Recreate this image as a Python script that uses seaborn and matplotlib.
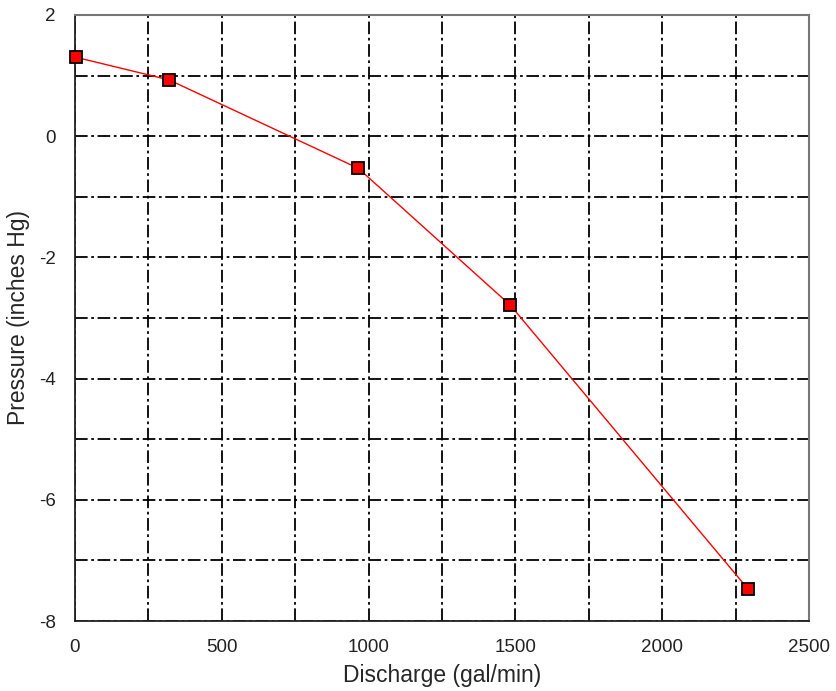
import numpy as np
import pandas as pd
import matplotlib
matplotlib.use("Agg")
import matplotlib.pyplot as plt
import matplotlib.ticker as mticker
import seaborn as sns

discharge = [5, 320, 965, 1483, 2292]
pressure = [1.30, 0.93, -0.53, -2.79, -7.47]

sns.set_theme(style="white")
plt.rcParams["font.family"] = ["Liberation Sans", "DejaVu Sans"]
plt.rcParams["axes.unicode_minus"] = False

df = pd.DataFrame({"Discharge": discharge, "Pressure": pressure})

fig = plt.figure(figsize=(8.36, 6.91), dpi=100)
ax = fig.add_axes([0.0897, 0.1013, 0.878, 0.877])

sns.lineplot(data=df, x="Discharge", y="Pressure", ax=ax, color="red",
             linewidth=1.0, sort=True)
ax.plot(df["Discharge"], df["Pressure"], ls="none", marker="s", markersize=8,
        markerfacecolor="red", markeredgecolor="black", markeredgewidth=1.3,
        clip_on=False, zorder=5)

ax.set_xlim(0, 2500)
ax.set_ylim(-8, 2)
ax.xaxis.set_major_locator(mticker.MultipleLocator(500))
ax.xaxis.set_minor_locator(mticker.MultipleLocator(250))
ax.yaxis.set_major_locator(mticker.MultipleLocator(2))
ax.yaxis.set_minor_locator(mticker.MultipleLocator(1))
ax.grid(True, which="both", color="black", linewidth=1.3,
        dashes=(7, 2, 1.5, 2))
ax.set_axisbelow(True)
ax.tick_params(axis="both", which="both", length=0, labelsize=13.5,
               colors="#222222")
ax.tick_params(axis="x", pad=13)
ax.tick_params(axis="y", pad=14)

for s in ["left", "bottom"]:
    ax.spines[s].set_color("#222222")
    ax.spines[s].set_linewidth(1.3)
for s in ["top", "right"]:
    ax.spines[s].set_color("#777777")
    ax.spines[s].set_linewidth(1.5)

ax.set_xlabel("Discharge (gal/min)", fontsize=16.5, labelpad=6)
ax.set_ylabel("Pressure (inches Hg)", fontsize=16.5, labelpad=6)

fig.savefig("out.png", dpi=100)
